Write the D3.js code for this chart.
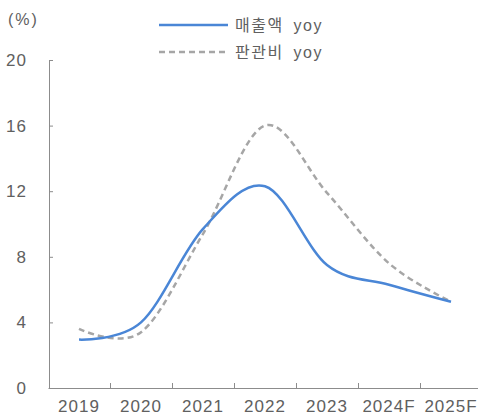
<!DOCTYPE html>
<html>
<head>
<meta charset="utf-8">
<script src="https://cdn.jsdelivr.net/npm/d3@7"></script>
<style>
  body { margin: 0; background: #fff; }
  text { font-family: "Liberation Sans", Arial, "Noto Sans CJK KR", sans-serif; fill: #606060; }
</style>
</head>
<body>
<div id="chart"></div>
<script>
// chart data
var years = ["2019", "2020", "2021", "2022", "2023", "2024F", "2025F"];
var salesYoy = [2.95, 4.0, 9.7, 12.3, 7.5, 6.3, 5.26];
var sgaYoy = [3.6, 3.4, 9.4, 16.0, 11.9, 7.6, 5.26];
var yTicks = [0, 4, 8, 12, 16, 20];

var width = 478,
    height = 420;

var svg = d3.select("#chart").append("svg")
    .attr("width", width)
    .attr("height", height);

var x = d3.scaleBand()
    .domain(years)
    .range([48, 482]);

var y = d3.scaleLinear()
    .domain([0, 20])
    .range([388, 60]);

var axisColor = "#8c8c8c";

// y axis
var yAxis = svg.append("g")
    .attr("transform", "translate(49,0)")
    .call(d3.axisLeft(y).tickValues(yTicks).tickSize(-4).tickPadding(22));
yAxis.select(".domain").attr("stroke", axisColor);
yAxis.selectAll(".tick line").attr("stroke", axisColor);
yAxis.selectAll(".tick text")
    .attr("font-size", 17)
    .attr("letter-spacing", 1)
    .attr("fill", "#606060");

// x axis
var xAxis = svg.append("g")
    .attr("transform", "translate(0,388)")
    .call(d3.axisBottom(x).tickSize(0).tickPadding(12).tickSizeOuter(0));
xAxis.select(".domain").attr("stroke", axisColor);
xAxis.selectAll(".tick text")
    .attr("font-size", 17)
    .attr("letter-spacing", 1)
    .attr("fill", "#606060");

// tick marks between the categories
svg.append("g").selectAll("line")
    .data(years.slice(1))
    .enter()
    .append("line")
    .attr("x1", function(d) { return Math.round(x(d)) + 0.5; })
    .attr("x2", function(d) { return Math.round(x(d)) + 0.5; })
    .attr("y1", 388)
    .attr("y2", 383)
    .attr("stroke", axisColor);

svg.append("text")
    .attr("x", 8)
    .attr("y", 25)
    .attr("font-size", 16)
    .attr("letter-spacing", 2)
    .text("(%)");

var line = d3.line()
    .x(function(d, i) { return x(years[i]) + x.bandwidth() / 2; })
    .y(function(d) { return y(d); })
    .curve(d3.curveCardinal.tension(0));

svg.append("path")
    .attr("d", line(sgaYoy))
    .attr("fill", "none")
    .attr("stroke", "#a6a6a6")
    .attr("stroke-width", 2.5)
    .attr("stroke-dasharray", "6,4");

svg.append("path")
    .attr("d", line(salesYoy))
    .attr("fill", "none")
    .attr("stroke", "#4a86d6")
    .attr("stroke-width", 2.5);

// legend
var legend = [
    {name: "매출액 yoy", color: "#4a86d6", dash: null, y: 25},
    {name: "판관비 yoy", color: "#a6a6a6", dash: "6,4", y: 52}
];

legend.forEach(function(l) {
    svg.append("line")
        .attr("x1", 159)
        .attr("x2", 228)
        .attr("y1", l.y)
        .attr("y2", l.y)
        .attr("stroke", l.color)
        .attr("stroke-width", 2.5)
        .attr("stroke-dasharray", l.dash);
    svg.append("text")
        .attr("x", 235)
        .attr("y", l.y + 6)
        .attr("font-size", 16)
        .attr("letter-spacing", 1.5)
        .attr("word-spacing", 4)
        .text(l.name);
});
</script>
</body>
</html>
